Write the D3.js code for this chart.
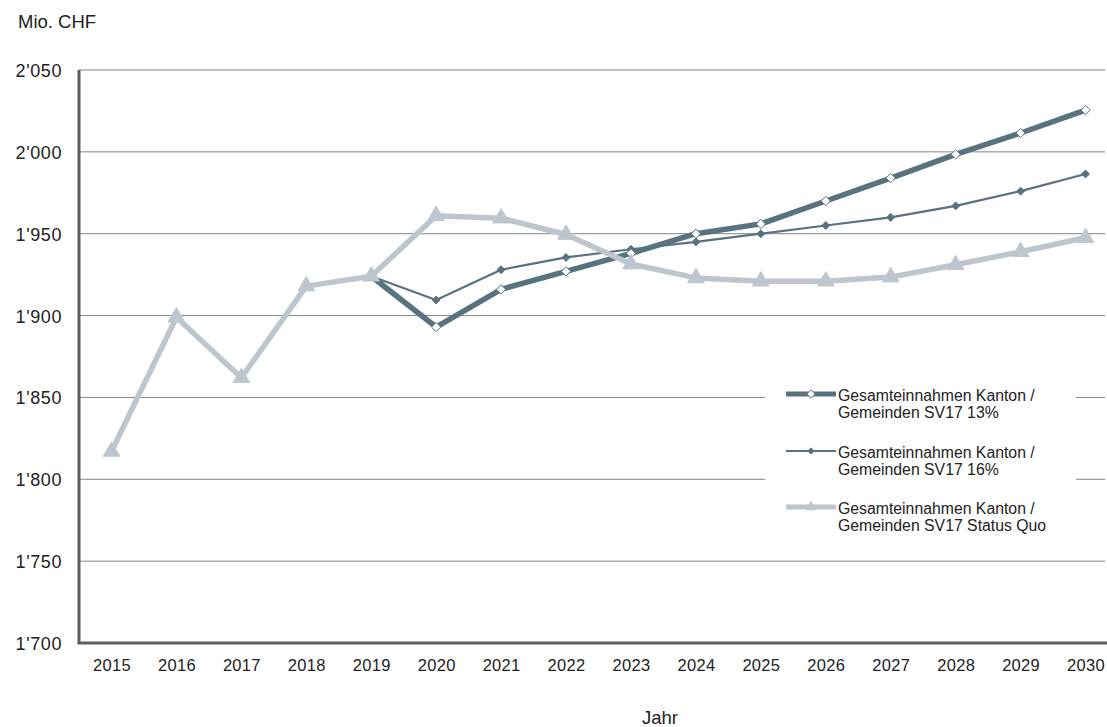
<!DOCTYPE html>
<meta charset="utf-8">
<title>Gesamteinnahmen Kanton / Gemeinden</title>
<style>
  body { margin: 0; background: #fff; }
  text { font-family: "Liberation Sans", Arial, sans-serif; fill: #222; }
</style>
<body>
<div id="chart"></div>
<script src="https://d3js.org/d3.v7.min.js"></script>
<script>

// data (Mio. CHF)
var years = [2015, 2016, 2017, 2018, 2019, 2020, 2021, 2022, 2023, 2024, 2025, 2026, 2027, 2028, 2029, 2030];
var sv13 = [null, null, null, null, 1924, 1893, 1916, 1927, 1938, 1950, 1956, 1970, 1984, 1998.5, 2011.5, 2025.5];
var sv16 = [null, null, null, null, 1924, 1909.5, 1928, 1935.5, 1940.5, 1945, 1950, 1955, 1960, 1967, 1976, 1986.5];
var statusQuo = [1817, 1899, 1862, 1918, 1924, 1961, 1959.5, 1949.5, 1931.5, 1923, 1921, 1921, 1923.5, 1931, 1939, 1947.5];
var yTicks = [1700, 1750, 1800, 1850, 1900, 1950, 2000, 2050];
var seriesNames = ["Gesamteinnahmen Kanton /|Gemeinden SV17 13%",
                   "Gesamteinnahmen Kanton /|Gemeinden SV17 16%",
                   "Gesamteinnahmen Kanton /|Gemeinden SV17 Status Quo"];

var W = 1107, H = 727;
var plotLeft = 79, plotTop = 70, plotBottom = 643, plotRight = 1107;

var svg = d3.select("#chart").append("svg")
    .attr("width", W)
    .attr("height", H);

var x = d3.scalePoint()
    .domain(years)
    .range([plotLeft, 1118])
    .padding(0.5);

var y = d3.scaleLinear()
    .domain([1700, 2050])
    .range([plotBottom, plotTop]);

var fmt = function(v) { return String(v).replace(/(\d)(\d{3})$/, "$1'$2"); };

// gridlines
svg.append("g")
  .selectAll("line")
  .data(yTicks.slice(1))
  .enter().append("line")
    .attr("x1", plotLeft).attr("x2", plotRight - 2)
    .attr("y1", function(d) { return y(d); })
    .attr("y2", function(d) { return y(d); })
    .attr("stroke", "#858585")
    .attr("stroke-width", 1);

// y axis labels
var yAxis = svg.append("g")
    .attr("transform", "translate(" + plotLeft + ",0)")
    .call(d3.axisLeft(y).tickValues(yTicks).tickSize(0).tickPadding(17).tickFormat(fmt));
yAxis.select(".domain").remove();
yAxis.selectAll("text")
    .attr("font-size", 18)
    .attr("letter-spacing", 0.6)
    .attr("dy", "0.36em")
    .attr("fill", "#222");

// x axis labels
var xAxis = svg.append("g")
    .attr("transform", "translate(0," + plotBottom + ")")
    .call(d3.axisBottom(x).tickSize(0).tickPadding(16));
xAxis.select(".domain").remove();
xAxis.selectAll("text")
    .attr("font-size", 16.5)
    .attr("letter-spacing", 0.3)
    .attr("fill", "#222");

// axis lines
svg.append("line")
    .attr("x1", plotLeft).attr("x2", plotLeft)
    .attr("y1", plotTop).attr("y2", plotBottom)
    .attr("stroke", "#5e5e5e").attr("stroke-width", 3);
svg.append("line")
    .attr("x1", plotLeft - 1.5).attr("x2", plotRight)
    .attr("y1", plotBottom).attr("y2", plotBottom)
    .attr("stroke", "#5e5e5e").attr("stroke-width", 3);

svg.append("text")
    .attr("x", 18).attr("y", 28)
    .attr("font-size", 18.5)
    .text("Mio. CHF");

svg.append("text")
    .attr("x", 660).attr("y", 724)
    .attr("text-anchor", "middle")
    .attr("font-size", 18.5)
    .text("Jahr");

var dark = "#587280", light = "#bcc6cc";

function pts(vals) {
  return years.map(function(yr, i) { return {year: yr, value: vals[i]}; })
    .filter(function(d) { return d.value != null; });
}

var line = d3.line()
    .x(function(d) { return x(d.year); })
    .y(function(d) { return y(d.value); });

var diamond = d3.symbol().type(d3.symbolDiamond2);
var triangle = d3.symbol().type(d3.symbolTriangle);

// legend box (white, covers the gridlines behind it)
svg.append("rect")
    .attr("x", 765).attr("y", 376)
    .attr("width", 311).attr("height", 172)
    .attr("fill", "#fff");

var series = [
  {vals: sv16, color: dark, width: 2.2, sym: diamond.size(40)(), fill: dark, stroke: dark},
  {vals: sv13, color: dark, width: 5.5, sym: diamond.size(55)(), fill: "#fff", stroke: dark},
  {vals: statusQuo, color: light, width: 5.5, sym: triangle.size(120)(), fill: light, stroke: light}
];

series.forEach(function(s) {
  var g = svg.append("g");
  g.append("path")
    .datum(pts(s.vals))
    .attr("d", line)
    .attr("fill", "none")
    .attr("stroke", s.color)
    .attr("stroke-width", s.width)
    .attr("stroke-linejoin", "round");
  g.selectAll("path.m")
    .data(pts(s.vals))
    .enter().append("path")
      .attr("class", "m")
      .attr("d", s.sym)
      .attr("transform", function(d) { return "translate(" + x(d.year) + "," + y(d.value) + ")"; })
      .attr("fill", s.fill)
      .attr("stroke", s.stroke)
      .attr("stroke-width", 1);
});

// legend entries
var legend = [
  {y: 394, color: dark, width: 5, sym: diamond.size(45)(), fill: "#fff"},
  {y: 451, color: dark, width: 2, sym: diamond.size(25)(), fill: dark},
  {y: 507, color: light, width: 5, sym: triangle.size(40)(), fill: light}
];
legend.forEach(function(l, i) {
  var g = svg.append("g");
  g.append("line")
    .attr("x1", 786).attr("x2", 836)
    .attr("y1", l.y).attr("y2", l.y)
    .attr("stroke", l.color).attr("stroke-width", l.width);
  g.append("path")
    .attr("d", l.sym)
    .attr("transform", "translate(811," + l.y + ")")
    .attr("fill", l.fill)
    .attr("stroke", l.color)
    .attr("stroke-width", 1);
  var t = g.append("text")
    .attr("x", 838).attr("y", l.y + 6.5)
    .attr("font-size", 15.8)
    .attr("fill", "#222");
  seriesNames[i].split("|").forEach(function(part, k) {
    t.append("tspan").attr("x", 838).attr("dy", k ? 17.8 : 0).text(part);
  });
});

</script>
</body>
